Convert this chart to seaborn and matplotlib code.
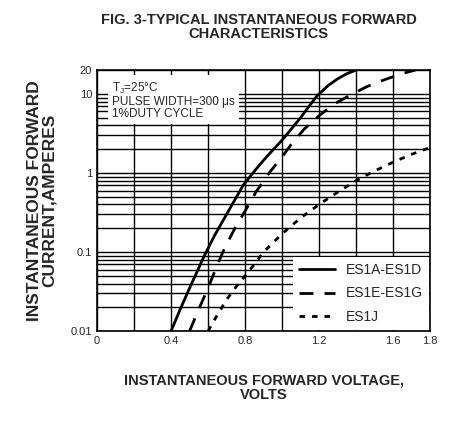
import numpy as np
import pandas as pd
import seaborn as sns
import matplotlib.pyplot as plt
from matplotlib.ticker import FixedLocator, NullFormatter

sns.set_style("white")
plt.rcParams['font.family'] = ['Liberation Sans', 'DejaVu Sans']

# points (volts, amperes)
v_ad = [0.40, 0.45, 0.50, 0.55, 0.58, 0.64, 0.70, 0.75, 0.79, 0.85, 0.90, 0.95, 1.00, 1.05, 1.10, 1.15, 1.19, 1.25, 1.30, 1.35, 1.40]
i_ad = [0.01, 0.019, 0.035, 0.063, 0.09, 0.17, 0.3, 0.48, 0.7, 1.05, 1.45, 1.95, 2.6, 3.6, 5.0, 7.2, 9.5, 12.8, 15.5, 18, 20]
v_eg = [0.50, 0.55, 0.60, 0.64, 0.68, 0.74, 0.80, 0.86, 0.93, 1.00, 1.05, 1.12, 1.20, 1.28, 1.38, 1.46, 1.55, 1.64, 1.72]
i_eg = [0.01, 0.019, 0.035, 0.06, 0.1, 0.19, 0.33, 0.58, 1.0, 1.6, 2.3, 3.6, 5.3, 7.4, 10, 12.4, 15, 17.8, 20]
v_j = [0.60, 0.65, 0.70, 0.75, 0.80, 0.85, 0.90, 1.00, 1.10, 1.20, 1.30, 1.40, 1.50, 1.60, 1.70, 1.80]
i_j = [0.01, 0.016, 0.025, 0.036, 0.05, 0.07, 0.1, 0.17, 0.27, 0.4, 0.57, 0.8, 1.06, 1.37, 1.72, 2.1]

df = pd.concat([
    pd.DataFrame({'V': v_ad, 'I': i_ad, 'type': 'ES1A-ES1D'}),
    pd.DataFrame({'V': v_eg, 'I': i_eg, 'type': 'ES1E-ES1G'}),
    pd.DataFrame({'V': v_j, 'I': i_j, 'type': 'ES1J'}),
])

fig = plt.figure(figsize=(4.62, 4.38), dpi=100)
ax = fig.add_axes([0.21, 0.244, 0.721, 0.596])
ax.set_yscale('log')
styles = {'ES1A-ES1D': '-', 'ES1E-ES1G': (0, (5, 4)), 'ES1J': (0, (2, 2.5))}
for name, g in df.groupby('type'):
    sns.lineplot(data=g, x='V', y='I', ax=ax, color='black', lw=2,
                 linestyle=styles[name], label=name, zorder=3, estimator=None, sort=False)

ax.set_xlim(0, 1.8)
ax.set_ylim(0.01, 20)
ax.set_xticks([0, 0.4, 0.8, 1.2, 1.6, 1.8])
ax.set_xticklabels(['0', '0.4', '0.8', '1.2', '1.6', '1.8'], fontsize=8)
ax.xaxis.set_minor_locator(FixedLocator(np.arange(0.2, 1.8, 0.2)))
ax.set_yticks([0.01, 0.1, 1, 10, 20])
ax.set_yticklabels(['0.01', '0.1', '1', '10', '20'], fontsize=8)
minors = [m * 10.0 ** e for e in (-2, -1, 0) for m in range(2, 10)]
ax.yaxis.set_minor_locator(FixedLocator(minors))
ax.yaxis.set_minor_formatter(NullFormatter())
ax.grid(True, which='both', color='black', lw=1)
ax.tick_params(which='both', length=0)
for s in ax.spines.values():
    s.set_color('black')
    s.set_linewidth(1.2)

ax.text(0.045, 0.96, 'T$_\\mathregular{J}$=25\u00b0C\nPULSE WIDTH=300 \u03bcs\n1%DUTY CYCLE',
        transform=ax.transAxes, va='top', fontsize=8.5, linespacing=1.0,
        bbox=dict(facecolor='white', edgecolor='none', pad=3), zorder=4)

leg = ax.legend(loc='lower right', frameon=True, fancybox=False, fontsize=10,
                handlelength=2.6, borderaxespad=0.1, labelspacing=0.7)
leg.get_frame().set_edgecolor('none')
leg.get_frame().set_alpha(1)
leg.set_zorder(5)

ax.set_xlabel('INSTANTANEOUS FORWARD VOLTAGE,\nVOLTS', fontsize=10.5, fontweight='bold',
              labelpad=20, linespacing=1.0)
ax.set_ylabel('INSTANTANEOUS FORWARD\nCURRENT,AMPERES', fontsize=12.5, fontweight='bold',
              labelpad=10, linespacing=0.95)
fig.suptitle('FIG. 3-TYPICAL INSTANTANEOUS FORWARD\nCHARACTERISTICS', fontsize=10.5,
             fontweight='bold', y=0.97, x=0.56, linespacing=1.0)

fig.savefig('out.png', dpi=100, facecolor='white')
